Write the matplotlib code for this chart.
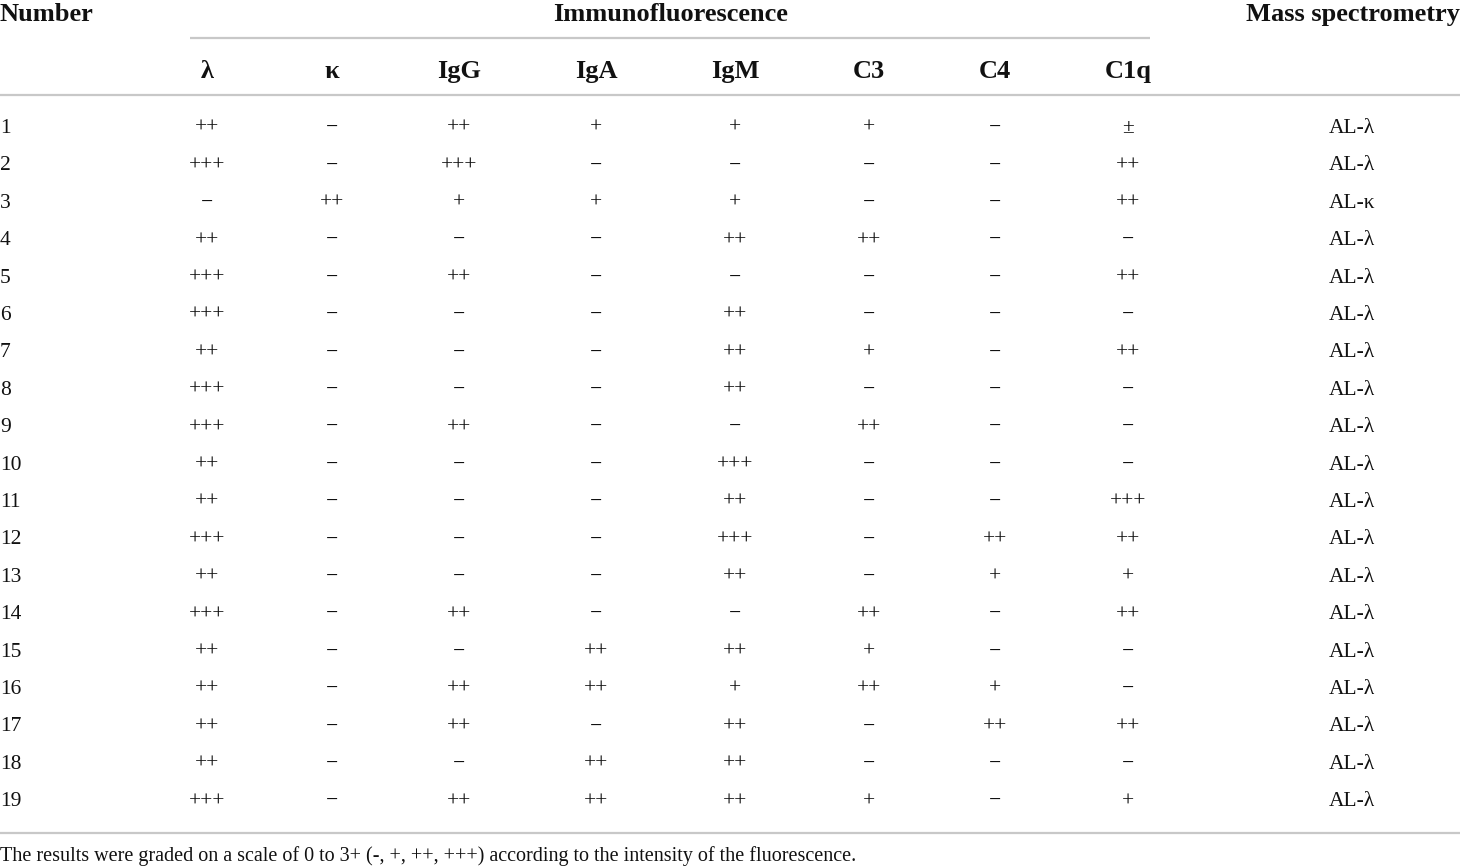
import matplotlib
matplotlib.use("Agg")
import matplotlib.pyplot as plt

# ---- data ----
columns = ["λ", "κ", "IgG", "IgA", "IgM", "C3", "C4", "C1q"]
numbers = [str(i) for i in range(1, 20)]
lam = ["++", "+++", "−", "++", "+++", "+++", "++", "+++", "+++", "++", "++", "+++", "++", "+++", "++", "++", "++", "++", "+++"]
kap = ["−", "−", "++", "−", "−", "−", "−", "−", "−", "−", "−", "−", "−", "−", "−", "−", "−", "−", "−"]
igg = ["++", "+++", "+", "−", "++", "−", "−", "−", "++", "−", "−", "−", "−", "++", "−", "++", "++", "−", "++"]
iga = ["+", "−", "+", "−", "−", "−", "−", "−", "−", "−", "−", "−", "−", "−", "++", "++", "−", "++", "++"]
igm = ["+", "−", "+", "++", "−", "++", "++", "++", "−", "+++", "++", "+++", "++", "−", "++", "+", "++", "++", "++"]
c3 = ["+", "−", "−", "++", "−", "−", "+", "−", "++", "−", "−", "−", "−", "++", "+", "++", "−", "−", "+"]
c4 = ["−", "−", "−", "−", "−", "−", "−", "−", "−", "−", "−", "++", "+", "−", "−", "+", "++", "−", "−"]
c1q = ["±", "++", "++", "−", "++", "−", "++", "−", "−", "−", "+++", "++", "+", "++", "−", "−", "++", "−", "+"]
mass = ["AL-λ", "AL-λ", "AL-κ"] + ["AL-λ"] * 16
group_header = "Immunofluorescence"
number_header = "Number"
mass_header = "Mass spectrometry"
footnote = "The results were graded on a scale of 0 to 3+ (-, +, ++, +++) according to the intensity of the fluorescence."

values = [lam, kap, igg, iga, igm, c3, c4, c1q]

# ---- layout ----
W, H = 1460, 867
fig = plt.figure(figsize=(W / 100, H / 100), dpi=100)
ax = fig.add_axes([0, 0, 1, 1])
ax.set_xlim(0, W)
ax.set_ylim(H, 0)
ax.axis("off")

FONT = "Liberation Serif"
TXT = "#111111"
LINE = "#c8c8c8"
body_fs = 15.5
foot_fs = 14.5
head_fs = 19

col_x = [207, 332, 459, 596, 735, 869, 995, 1128]
mass_x = 1352
row_base0 = 133
row_dy = 37.4

# header
ax.text(0, 21, number_header, ha="left", va="baseline", fontsize=head_fs,
        fontweight="bold", family=FONT, color=TXT)
ax.text(671, 21, group_header, ha="center", va="baseline", fontsize=head_fs,
        fontweight="bold", family=FONT, color=TXT)
ax.text(W, 21, mass_header, ha="right", va="baseline", fontsize=head_fs,
        fontweight="bold", family=FONT, color=TXT)
ax.plot([190, 1150], [38, 38], color=LINE, lw=1.6, solid_capstyle="butt")
for x, c in zip(col_x, columns):
    ax.text(x, 78, c, ha="center", va="baseline", fontsize=head_fs,
            fontweight="bold", family=FONT, color=TXT)
ax.plot([0, W], [95, 95], color=LINE, lw=1.6, solid_capstyle="butt")

# body
for i, n in enumerate(numbers):
    y = row_base0 + i * row_dy
    ax.text(0, y, n, ha="left", va="baseline", fontsize=body_fs, family=FONT, color=TXT)
    for x, col in zip(col_x, values):
        ax.text(x, y, col[i], ha="center", va="baseline", fontsize=body_fs,
                family=FONT, color=TXT)
    ax.text(mass_x, y, mass[i], ha="center", va="baseline", fontsize=body_fs,
            family=FONT, color=TXT)

ax.plot([0, W], [833, 833], color=LINE, lw=1.6, solid_capstyle="butt")
ax.text(0, 861, footnote, ha="left", va="baseline", fontsize=foot_fs,
        family=FONT, color=TXT)

fig.savefig("out.png", dpi=100, facecolor="white")
